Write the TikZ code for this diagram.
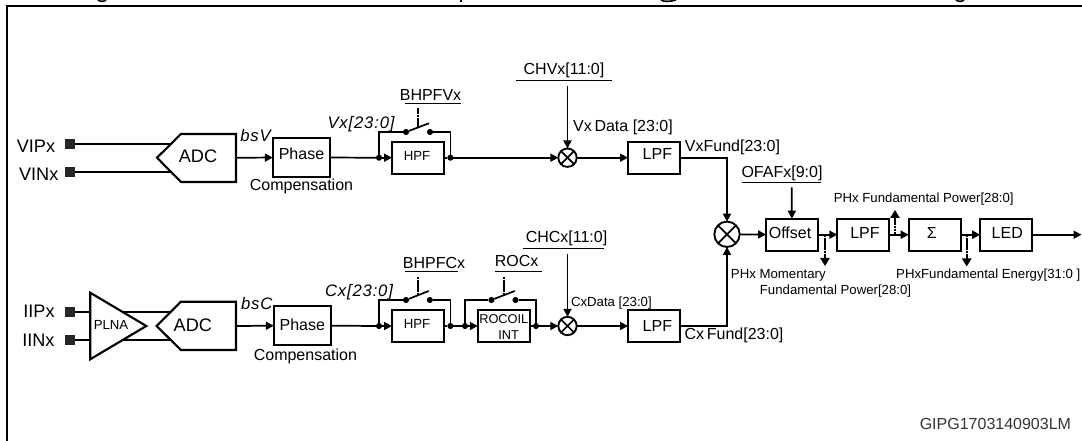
\documentclass[tikz,border=0pt]{standalone}
\usepackage{fontspec}
\setmainfont{Liberation Sans}
\usetikzlibrary{arrows.meta}
\tikzset{
	blk/.style={draw,line width=1.6pt,inner sep=0pt,outer sep=0pt,minimum width=39pt,minimum height=24pt},
	phs/.style={blk,minimum width=43pt,minimum height=29.6pt},
	pin/.style={fill=black!85,inner sep=0pt,minimum size=7.5pt,outer sep=0pt},
	jn/.style={circle,fill=black,inner sep=0pt,minimum size=4.6pt,outer sep=0pt},
	mul/.style={circle,draw,line width=1.4pt,inner sep=0pt,outer sep=0pt,minimum size=13.8pt},
	mulbig/.style={mul,minimum size=19pt},
	sig/.style={line width=1.3pt,-{Triangle[length=6pt,width=6pt]}},
	wire/.style={line width=1.3pt},
	ctl/.style={line width=1.2pt,dash pattern=on 2pt off 0.4pt},
	tap/.style={ctl,-{Triangle[length=6pt,width=7pt]}},
	uline/.style={line width=0.8pt},
	txa/.style={inner sep=0pt,font=\fontsize{12}{12}\selectfont},
	txb/.style={inner sep=0pt,font=\fontsize{13.6}{14}\selectfont},
	txc/.style={inner sep=0pt,font=\fontsize{9.9}{10}\selectfont},
	txi/.style={inner sep=0pt,font=\fontsize{12.5}{13}\selectfont\itshape\addfontfeature{LetterSpace=5}}
}
\begin{document}
\begin{tikzpicture}[x=0.75pt,y=-0.75pt]
	\useasboundingbox (0,0) rectangle (1082,441);
	%frame
	\draw[line width=1.6pt] (7,441) -- (7,5.7) -- (1082,5.7);
	%cut off title
	\draw[line width=1.2pt] (98,0) .. controls (100,1.8) and (104,1.8) .. (106,0);
	\draw[line width=1.2pt] (461,0) -- (461,2);
	\draw[line width=1.2pt] (661,0) .. controls (663,1.8) and (670,1.8) .. (676,0);
	\draw[line width=1.2pt] (956,0) .. controls (958,1.8) and (962,1.8) .. (964,0);
	%voltage inputs
	\node[txb] (vip) at (36,146) {VIPx};
	\node[txb] (vin) at (38.7,174) {VINx};
	\node[pin] (pinvp) at (69.5,143.7) {};
	\node[pin] (pinvn) at (69.5,171.7) {};
	\coordinate (adcvp) at (171,143.7);
	\coordinate (adcvn) at (171,171.7);
	\draw[wire] (pinvp) -- (adcvp);
	\draw[wire] (pinvn) -- (adcvn);
	\draw[line width=1.6pt] (157,157.7) -- (181,134) -- (236,134) -- (236,182) -- (181,182) -- cycle;
	\node[txb] (adcv) at (198,156.7) {ADC};
	\coordinate (adcvo) at (236,157.7);
	\node[txi] (bsv) at (255.5,136) {bsV};
	%voltage channel
	\node[phs] (phv) at (301.5,157.5) {};
	\node[txa] (phvt) at (301.5,153.7) {Phase};
	\node[txa] (cmpv) at (301.5,186) {Compensation};
	\draw[sig] (adcvo) -- (phv);
	\node[blk] (hpfv) at (418,157.7) {};
	\node[txc] (hpfvt) at (417,155.7) {HPF};
	\node[jn] (jva) at (379,157.7) {};
	\node[jn] (jvb) at (450.4,157.7) {};
	\draw[wire] (phv) -- (jva);
	\draw[sig] (jva) -- (hpfv);
	\draw[wire] (hpfv) -- (jvb);
	\node[txi] (vxbus) at (361,124) {Vx[23:0]};
	%switch
	\node[jn] (swva) at (406,132) {};
	\node[jn] (swvb) at (430,132) {};
	\coordinate (levv) at (429,123.3);
	\coordinate (ctlva) at (418,108.3);
	\coordinate (ctlvb) at (418,127);
	\draw[wire] (jva) |- (swva);
	\draw[wire] (swvb) -| (jvb);
	\draw[wire] (swva) -- (levv);
	\draw[ctl] (ctlva) -- (ctlvb);
	\node[txa] (bhv) at (430.5,95) {BHPFVx};
	\draw[uline] (405,103.3) -- (461,103.3);
	%gain and filter
	\node[mul] (mulv) at (567.5,157.7) {};
	\draw[line width=1.3pt] (mulv.45) -- (mulv.225) (mulv.135) -- (mulv.315);
	\draw[sig] (jvb) -- (mulv);
	\node[txa] (chv) at (564,70) {CHVx[11:0]};
	\draw[uline] (516,80.3) -- (611.6,80.3);
	\coordinate (chvi) at (567.5,86);
	\draw[sig] (chvi) -- (mulv);
	\node[txa] (vxd) at (623,127.7) {Vx\,Data [23:0]};
	\node[blk] (lpfv) at (654,157.7) {};
	\node[txb,font=\fontsize{12}{12}\selectfont] (lpfvt) at (657.4,154.3) {LPF};
	\draw[sig] (mulv) -- (lpfv);
	\node[txa] (vxf) at (732.5,147.7) {VxFund[23:0]};
	%current inputs
	\node[txb] (iip) at (39,311.7) {IIPx};
	\node[txb] (iin) at (38.4,340) {IINx};
	\node[pin] (pinip) at (70.2,312.3) {};
	\node[pin] (pinin) at (70.2,340.3) {};
	\coordinate (lnaip) at (90.2,312.3);
	\coordinate (lnain) at (90.2,340.3);
	\draw[wire] (pinip) -- (lnaip);
	\draw[wire] (pinin) -- (lnain);
	\draw[line width=1.6pt] (90.2,292.7) -- (90.2,359.3) -- (146.3,326) -- cycle;
	\node[txc] (plna) at (111,325.3) {PLNA};
	\coordinate (lnaop) at (122.7,312.3);
	\coordinate (lnaon) at (122.7,340.3);
	\coordinate (adcip) at (170.6,312.3);
	\coordinate (adcin) at (170.6,340.3);
	\draw[wire] (lnaop) -- (adcip);
	\draw[wire] (lnaon) -- (adcin);
	\draw[line width=1.6pt] (156.7,326) -- (180.8,301.7) -- (236,301.7) -- (236,350) -- (180.8,350) -- cycle;
	\node[txb] (adci) at (192.8,325.3) {ADC};
	\coordinate (adcio) at (236,326);
	\node[txi] (bsc) at (256.7,303.3) {bsC};
	%current channel
	\node[phs] (phi) at (302.5,325.5) {};
	\node[txa] (phit) at (302.3,325) {Phase};
	\node[txa] (cmpi) at (305.4,356) {Compensation};
	\draw[sig] (adcio) -- (phi);
	\node[blk] (hpfi) at (418,326) {};
	\node[txc] (hpfit) at (417,323.7) {HPF};
	\node[jn] (jia) at (379,326) {};
	\node[jn] (jib) at (450.4,326) {};
	\draw[wire] (phi) -- (jia);
	\draw[sig] (jia) -- (hpfi);
	\draw[wire] (hpfi) -- (jib);
	\node[txi] (cxbus) at (359,291.7) {Cx[23:0]};
	%switch
	\node[jn] (swia) at (406,300) {};
	\node[jn] (swib) at (429.8,300) {};
	\coordinate (levi) at (428.7,291);
	\coordinate (ctlia) at (417.7,276.7);
	\coordinate (ctlib) at (417.7,295);
	\draw[wire] (jia) |- (swia);
	\draw[wire] (swib) -| (jib);
	\draw[wire] (swia) -- (levi);
	\draw[ctl] (ctlia) -- (ctlib);
	\node[txa] (bhi) at (434,263.3) {BHPFCx};
	\draw[uline] (405,271.7) -- (458,271.7);
	%rocoil
	\node[blk] (roc) at (503.8,326) {};
	\node[txc,font=\fontsize{9.6}{10}\selectfont] (roct) at (503.8,319.3) {ROCOIL};
	\node[txc,font=\fontsize{9.6}{10}\selectfont] (intt) at (508.6,335) {INT};
	\node[jn] (jic) at (465,326) {};
	\node[jn] (jid) at (536,326) {};
	\draw[wire] (jib) -- (jic);
	\draw[sig] (jic) -- (roc);
	\draw[wire] (roc) -- (jid);
	\node[jn] (swic) at (491.4,300) {};
	\node[jn] (swid) at (515.5,300) {};
	\coordinate (levr) at (514.8,291);
	\coordinate (ctlra) at (503.8,276.7);
	\coordinate (ctlrb) at (503.8,295);
	\draw[wire] (jic) |- (swic);
	\draw[wire] (swid) -| (jid);
	\draw[wire] (swic) -- (levr);
	\draw[ctl] (ctlra) -- (ctlrb);
	\node[txa] (rocx) at (516.7,260.7) {ROCx};
	\draw[uline] (495,271.7) -- (541.7,271.7);
	%gain and filter
	\node[mul] (muli) at (567.5,326) {};
	\draw[line width=1.3pt] (muli.45) -- (muli.225) (muli.135) -- (muli.315);
	\draw[sig] (jid) -- (muli);
	\node[txa] (chc) at (566.5,238.3) {CHCx[11:0]};
	\draw[uline] (522.7,248.3) -- (603.7,248.3);
	\coordinate (chci) at (567.5,254.3);
	\draw[sig] (chci) -- (muli);
	\node[txc] (cxd) at (611.4,302.7) {CxData [23:0]};
	\node[blk] (lpfi) at (654,326) {};
	\node[txb,font=\fontsize{12}{12}\selectfont] (lpfit) at (657.4,325.7) {LPF};
	\draw[sig] (muli) -- (lpfi);
	\node[txa] (cxf) at (734,335.7) {Cx\,Fund[23:0]};
	%power and energy
	\node[mulbig] (mulp) at (727,234.3) {};
	\draw[line width=1.3pt] (mulp.45) -- (mulp.225) (mulp.135) -- (mulp.315);
	\draw[sig] (lpfv) -| (mulp);
	\draw[sig] (lpfi) -| (mulp);
	\node[blk] (ofs) at (792,234.7) {};
	\node[txa] (ofst) at (790,232.7) {Offset};
	\node[blk] (lpfp) at (863.3,234.7) {};
	\node[txa] (lpfpt) at (865,232.7) {LPF};
	\node[blk] (sm) at (934.7,234.7) {};
	\node[txa] (smt) at (931.7,232.7) {Σ};
	\node[blk] (led) at (1006.2,234.7) {};
	\node[txa] (ledt) at (1007.3,232.7) {LED};
	\coordinate (outp) at (1081.5,234.7);
	\draw[sig] (mulp) -- (ofs);
	\draw[sig] (ofs) -- (lpfp);
	\draw[sig] (lpfp) -- (sm);
	\draw[sig] (sm) -- (led);
	\draw[sig] (led) -- (outp);
	\node[txa] (ofa) at (782,173.3) {OFAFx[9:0]};
	\draw[uline] (741.5,182.3) -- (821,182.3);
	\coordinate (ofai) at (791.7,187.3);
	\draw[sig] (ofai) -- (ofs);
	%taps
	\coordinate (tapa) at (825,234.7);
	\coordinate (tapao) at (825,266);
	\coordinate (tapb) at (895,234.7);
	\coordinate (tapbo) at (895,210);
	\coordinate (tapc) at (966.7,234.7);
	\coordinate (tapco) at (966.7,266.5);
	\draw[tap] (tapa) -- (tapao);
	\draw[tap] (tapb) -- (tapbo);
	\draw[tap] (tapc) -- (tapco);
	\node[txc] (pwr) at (923.7,199.3) {PHx Fundamental Power[28:0]};
	\node[txc] (mma) at (778.3,275) {PHx Momentary};
	\node[txc] (mmb) at (835.5,290.7) {Fundamental Power[28:0]};
	\node[txc] (eng) at (988.3,275) {PHxFundamental Energy[31:0 ]};
	%figure id
	\node[txa,text=black!80] (gip) at (995.4,423.7) {GIPG1703140903LM};
\end{tikzpicture}
\end{document}
